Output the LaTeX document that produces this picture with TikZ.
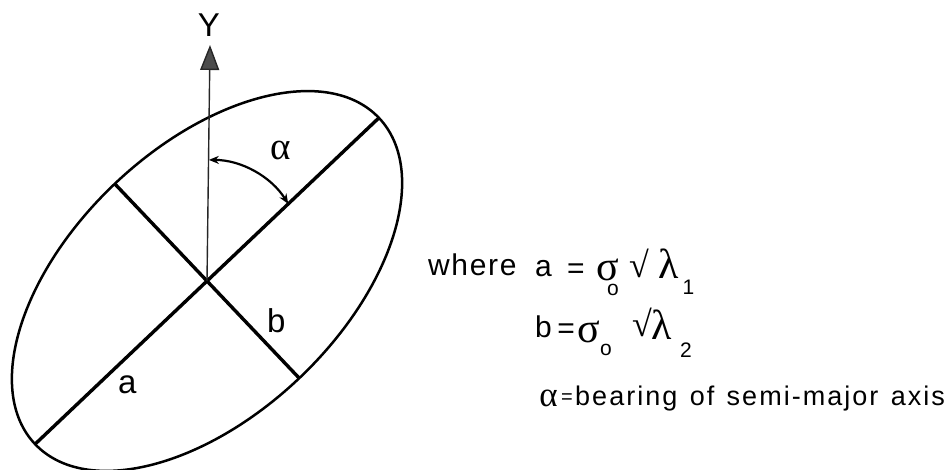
\documentclass[tikz,border=0pt]{standalone}
\usepackage{fontspec}
\setmainfont{Liberation Sans}
\newfontfamily\greekf{Liberation Serif}
\newfontfamily\wideA[LetterSpace=5.5]{Liberation Sans}
\newfontfamily\wideB[LetterSpace=7.5,WordSpace=1.3]{Liberation Sans}
\usetikzlibrary{arrows.meta,calc}
\tikzset{
  axisline/.style={line width=3.4pt},
  ell/.style={line width=2.5pt},
  yaxis/.style={line width=1.4pt, draw=black!85},
  lbl/.style={inner sep=0pt, font=\fontsize{33pt}{38pt}\selectfont},
  txt/.style={inner sep=0pt, font=\fontsize{30pt}{36pt}\selectfont},
  grk/.style={inner sep=0pt, font=\greekf\fontsize{42pt}{48pt}\selectfont},
  root/.style={inner sep=0pt, font=\greekf\fontsize{36pt}{42pt}\selectfont},
  sub/.style={inner sep=0pt, font=\fontsize{21pt}{25pt}\selectfont},
}
\begin{document}
\begin{tikzpicture}[x=1pt,y=1pt]
\useasboundingbox (0,0) rectangle (949,469);
\coordinate (C) at (207,188);
% ellipse
\draw[ell, rotate around={43.5:(C)}] (C) ellipse [x radius=237pt, y radius=134pt];
% axes
\coordinate (M1) at ($(C)+(43.5:237pt)$);
\coordinate (M2) at ($(C)+(223.5:237pt)$);
\coordinate (N1) at ($(C)+(133.5:134pt)$);
\coordinate (N2) at ($(C)+(313.5:134pt)$);
\draw[axisline] (M2) -- (M1);
\draw[axisline] (N1) -- (N2);
% Y axis
\coordinate (Ytip) at (210,424);
\draw[yaxis, -{Triangle[length=25pt,width=19pt,fill=black!70]}] (C) -- (Ytip);
\node[lbl, anchor=base] (Ylab) at (209,432) {Y};
% alpha arc
\coordinate (A) at ($(C)+(43.5:112pt)$);
\draw[line width=2.2pt, {Stealth[length=10pt,width=8pt]}-{Stealth[length=10pt,width=8pt]}]
  (A) arc[start angle=32, end angle=90, radius=93.6pt];
\node[grk, font=\greekf\fontsize{39pt}{45pt}\selectfont] (alab) at (281,319) {α};
\node[lbl, anchor=base west] (blab) at (267,137) {b};
\node[lbl, anchor=base west] (alab2) at (118,76) {a};
% line 1
\node[txt, anchor=base west, font=\wideA\fontsize{30pt}{36pt}\selectfont] (where) at (428,194) {where};
\node[txt, anchor=base west] (a1) at (535,193) {a};
\node[txt] (eq1) at (576,198) {=};
\node[grk] (s1) at (608,199) {σ};
\node[sub] (o1) at (613,179) {o};
\node[root] (r1) at (639,205.5) {√};
\node[grk] (l1) at (668.5,205.5) {λ};
\node[sub] (n1) at (688.5,181.5) {1};
% line 2
\node[txt, anchor=base west] (b2) at (535,132) {b};
\node[txt] (eq2) at (566,138) {=};
\node[grk] (s2) at (589,137.5) {σ};
\node[sub] (o2) at (606,119) {o};
\node[root] (r2) at (642,147) {√};
\node[grk] (l2) at (662,144.5) {λ};
\node[sub] (n2) at (686,119) {2};
% line 3
\node[grk, font=\greekf\fontsize{35pt}{41pt}\selectfont] (al3) at (548.5,70.5) {α};
\node[txt, font=\fontsize{20pt}{24pt}\selectfont] (eq3) at (567,70) {=};
\node[txt, anchor=base west, font=\wideB\fontsize{27pt}{32pt}\selectfont] (bear) at (575,64) {bearing of semi-major axis};
\end{tikzpicture}
\end{document}
